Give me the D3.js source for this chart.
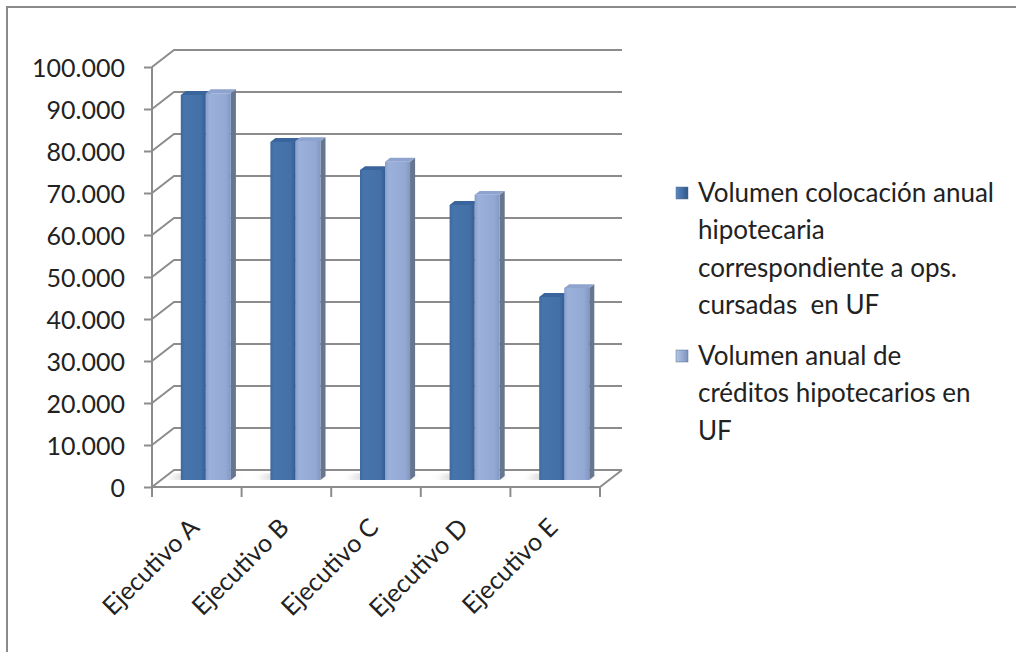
<!DOCTYPE html>
<html>
<head>
<meta charset="utf-8">
<script src="https://cdn.jsdelivr.net/npm/d3@7"></script>
<style>
  body { margin: 0; background: #fff; }
  text { font-family: Lato, "Noto Sans", sans-serif; fill: #222; }
</style>
</head>
<body>
<div id="chart"></div>
<script>
// values
const categories = ["Ejecutivo A", "Ejecutivo B", "Ejecutivo C", "Ejecutivo D", "Ejecutivo E"];
const seriesKeys = ["colocacion", "creditos"];
const colocacion = [91700, 80500, 73800, 65500, 43600];
const creditos = [92100, 80700, 75800, 67900, 45700];
const yTicks = [0, 10000, 20000, 30000, 40000, 50000, 60000, 70000, 80000, 90000, 100000];
const legendLines = [
  ["Volumen colocación anual", "hipotecaria", "correspondiente a ops.", "cursadas  en UF"],
  ["Volumen anual de", "créditos hipotecarios en", "UF"]
];

const W = 1016, H = 652;
const depthX = 22, depthY = 17;      // oblique offset of the back wall
const barF0 = 0.41, barF1 = 0.64;    // depth slice where the columns stand

const svg = d3.select("#chart").append("svg")
  .attr("width", W).attr("height", H);

const defs = svg.append("defs");
function grad(id, stops) {
  const g = defs.append("linearGradient").attr("id", id)
    .attr("x1", 0).attr("x2", 1).attr("y1", 0).attr("y2", 0);
  stops.forEach(s => g.append("stop").attr("offset", s[0]).attr("stop-color", s[1]));
}
grad("darkFront", [[0, "#3d689f"], [0.15, "#4874ac"], [0.8, "#4470a8"], [1, "#355d92"]]);
grad("lightFront", [[0, "#889fcc"], [0.15, "#9bb1da"], [0.8, "#93a9d4"], [1, "#8298c4"]]);
grad("legendDark", [[0, "#5b87c0"], [1, "#2f5888"]]);
grad("legendLight", [[0, "#b4c6e6"], [1, "#7d93bf"]]);
defs.append("filter").attr("id", "blur").attr("x", "-50%").attr("width", "200%")
  .append("feGaussianBlur").attr("stdDeviation", 3);

const colors = {
  colocacion: { front: "url(#darkFront)", side: "#2f5181", top: "#3a659c", legend: "url(#legendDark)" },
  creditos: { front: "url(#lightFront)", side: "#66768f", top: "#8ea3ce", legend: "url(#legendLight)" }
};

// outer frame (only left and top edges are visible)
svg.append("path")
  .attr("d", `M7,${H} V7 H${W}`)
  .attr("fill", "none").attr("stroke", "#8a8a8a").attr("stroke-width", 2);

// scales on the front plane
const x = d3.scaleBand().domain(categories).range([152, 600]);
const xSub = d3.scaleBand().domain(seriesKeys).range([0, x.bandwidth()])
  .paddingInner(0).paddingOuter(0.79);
const y = d3.scaleLinear().domain([0, 100000]).range([487, 67]);

const P = (px, py, f) => [px + depthX * f, py - depthY * f];
const poly = pts => "M" + pts.map(p => p.join(",")).join("L") + "Z";

const gridColor = "#8c8c8c";
const x0 = x.range()[0], x1 = x.range()[1];

// back wall gridlines + side wall diagonals
const grid = svg.append("g").attr("stroke", gridColor).attr("stroke-width", 2).attr("fill", "none");
yTicks.forEach(v => {
  const a = P(x0, y(v), 0), b = P(x0, y(v), 1), c = P(x1, y(v), 1);
  grid.append("path").attr("d", `M${a}L${b}L${c}`);
});
// floor front and right edges
grid.append("path").attr("d", `M${P(x0, y(0), 0)}L${P(x1, y(0), 0)}L${P(x1, y(0), 1)}`);

// front value axis
const fmt = d3.formatLocale({ decimal: ",", thousands: ".", grouping: [3], currency: ["$", ""] }).format(",");
svg.append("g")
  .attr("transform", `translate(${x0},0)`)
  .call(d3.axisLeft(y).tickValues(yTicks).tickSize(8).tickPadding(19).tickFormat(fmt))
  .call(g => g.selectAll("path,line").attr("stroke", gridColor).attr("stroke-width", 2))
  .call(g => g.select(".domain").attr("d", `M0,${y(100000)}V${y(0)}`))
  .call(g => g.selectAll("text").attr("font-size", 25).attr("font-family", "Lato").attr("fill", "#222").attr("dy", "0.36em"));

// category ticks
svg.append("g").selectAll("line")
  .data(d3.range(categories.length + 1))
  .join("line")
    .attr("x1", i => x0 + i * x.step()).attr("x2", i => x0 + i * x.step())
    .attr("y1", y(0)).attr("y2", y(0) + 10)
    .attr("stroke", gridColor).attr("stroke-width", 2);

// floor shadows
const base = y(0);
svg.append("g").attr("filter", "url(#blur)").selectAll("path")
  .data(categories)
  .join("path")
    .attr("fill", "#9a9a9a").attr("opacity", 0.6)
    .attr("d", c => {
      const l = x(c) + xSub("colocacion"), r = x(c) + xSub("creditos") + xSub.bandwidth();
      return poly([P(l - 14, base, barF0 + 0.05), P(r - 6, base, barF0 + 0.05), P(r, base, barF1 + 0.1), P(l - 8, base, barF1 + 0.1)]);
    });

// columns
const rows = categories.map((c, i) => ({ cat: c, colocacion: colocacion[i], creditos: creditos[i] }));
const bars = svg.append("g");
rows.forEach(row => {
  seriesKeys.forEach(k => {
    const l = x(row.cat) + xSub(k), r = l + xSub.bandwidth();
    const top = y(row[k]), bot = y(0);
    const fl = P(l, top, barF0), fr = P(r, top, barF0);
    const bl = P(l, top, barF1), br = P(r, top, barF1);
    const frb = P(r, bot, barF0), brb = P(r, bot, barF1), flb = P(l, bot, barF0);
    const g = bars.append("g");
    g.append("path").attr("d", poly([fr, br, brb, frb])).attr("fill", colors[k].side);
    g.append("path").attr("d", poly([fl, fr, br, bl])).attr("fill", colors[k].top);
    g.append("path").attr("d", poly([fl, fr, frb, flb])).attr("fill", colors[k].front);
  });
});

// category labels
svg.append("g").selectAll("text")
  .data(categories)
  .join("text")
    .attr("transform", c => `translate(${x(c) + x.bandwidth() / 2 + 4},${y(0) + 42}) rotate(-45)`)
    .attr("text-anchor", "end")
    .attr("font-size", 25)
    .text(c => c);

// legend
const legend = svg.append("g");
const lineH = 37.4;
const entryY = [202, 365];
legendLines.forEach((lines, i) => {
  const k = seriesKeys[i];
  legend.append("rect")
    .attr("x", 676).attr("y", entryY[i] - 15).attr("width", 12).attr("height", 12)
    .attr("fill", colors[k].legend).attr("stroke", "#5a6f8f").attr("stroke-width", 0.5);
  legend.append("text")
    .attr("x", 698).attr("y", entryY[i])
    .attr("font-size", 26)
    .style("white-space", "pre")
    .selectAll("tspan")
    .data(lines)
    .join("tspan")
      .attr("x", 698)
      .attr("y", (d, j) => entryY[i] + j * lineH)
      .text(d => d);
});
</script>
</body>
</html>
